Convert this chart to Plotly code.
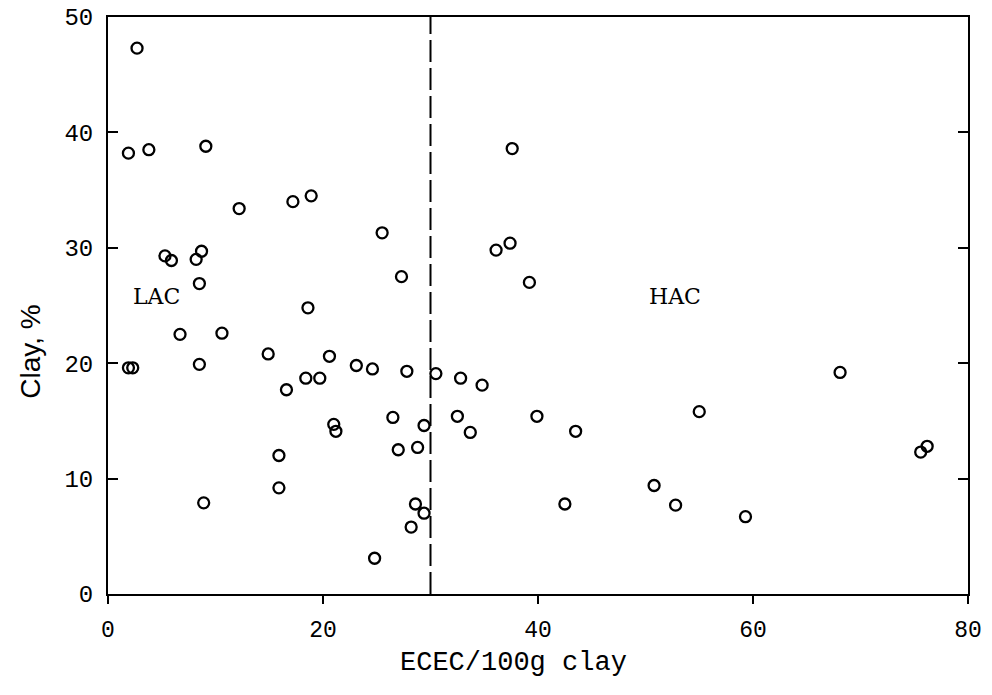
import plotly.graph_objects as go

ecec = [2.7, 1.9, 3.8, 9.1, 12.2, 17.2, 18.9, 25.5, 5.3, 5.9, 8.2, 8.7, 8.5, 27.3, 18.6,
        6.7, 10.6, 1.9, 2.3, 8.5, 14.9, 20.6, 23.1, 24.6, 27.8, 18.4, 19.7, 16.6, 21.0,
        21.2, 26.5, 29.4, 15.9, 27.0, 28.8, 15.9, 8.9, 28.6, 29.4, 28.2, 24.8,
        30.5, 37.6, 36.1, 37.4, 39.2, 32.8, 34.8, 32.5, 33.7, 39.9, 43.5, 55.0, 68.1,
        75.6, 76.2, 50.8, 42.5, 52.8, 59.3]
clay = [47.3, 38.2, 38.5, 38.8, 33.4, 34.0, 34.5, 31.3, 29.3, 28.9, 29.0, 29.7, 26.9, 27.5, 24.8,
        22.5, 22.6, 19.6, 19.6, 19.9, 20.8, 20.6, 19.8, 19.5, 19.3, 18.7, 18.7, 17.7, 14.7,
        14.1, 15.3, 14.6, 12.0, 12.5, 12.7, 9.2, 7.9, 7.8, 7.0, 5.8, 3.1,
        19.1, 38.6, 29.8, 30.4, 27.0, 18.7, 18.1, 15.4, 14.0, 15.4, 14.1, 15.8, 19.2,
        12.3, 12.8, 9.4, 7.8, 7.7, 6.7]
divider = 30
x_ticks = [0, 20, 40, 60, 80]
y_ticks = [0, 10, 20, 30, 40, 50]
x_title = "ECEC/100g clay"
y_title = "Clay, %"
region_labels = ["LAC", "HAC"]
region_x = [4.5, 52.7]
region_y = [25.8, 25.8]

fig = go.Figure()
fig.add_trace(go.Scatter(
    x=ecec, y=clay, mode="markers",
    marker=dict(symbol="circle-open", size=11, color="black", line=dict(width=2.3, color="black")),
    showlegend=False, cliponaxis=False))
fig.add_trace(go.Scatter(
    x=[divider, divider], y=[y_ticks[0], y_ticks[-1]], mode="lines",
    line=dict(color="black", width=2, dash="22px,6px"), showlegend=False))

for t, xx, yy in zip(region_labels, region_x, region_y):
    fig.add_annotation(x=xx, y=yy, text=t, showarrow=False,
                       font=dict(family="DejaVu Serif", size=22, color="black"))

fig.add_annotation(xref="paper", yref="paper", x=0.471, y=-0.09, xanchor="center", yanchor="top",
                   text=x_title, showarrow=False,
                   font=dict(family="Liberation Mono", size=27, color="black"))
fig.add_annotation(xref="paper", yref="paper", x=-0.0895, y=0.42, xanchor="center", yanchor="middle",
                   textangle=-90, text=y_title, showarrow=False,
                   font=dict(family="Liberation Sans", size=28, color="black"))

fig.update_xaxes(range=[0, 80], tickvals=x_ticks, ticks="outside", ticklen=8, tickwidth=2,
                 tickcolor="black", showline=True, linewidth=2, linecolor="black", mirror=True,
                 showgrid=False, zeroline=False, ticklabelstandoff=5, automargin=False,
                 tickfont=dict(family="Liberation Mono", size=23, color="black"))
fig.update_yaxes(range=[0, 50], tickvals=y_ticks, ticks="inside", ticklen=10, tickwidth=2,
                 tickcolor="black", showline=True, linewidth=2, linecolor="black", mirror="ticks",
                 showgrid=False, zeroline=False, ticklabelstandoff=8, automargin=False,
                 tickfont=dict(family="Liberation Mono", size=24, color="black"))
fig.update_layout(width=992, height=695, margin=dict(l=108, r=24, t=17, b=101),
                  plot_bgcolor="white", paper_bgcolor="white")
fig.write_html("out.html")
